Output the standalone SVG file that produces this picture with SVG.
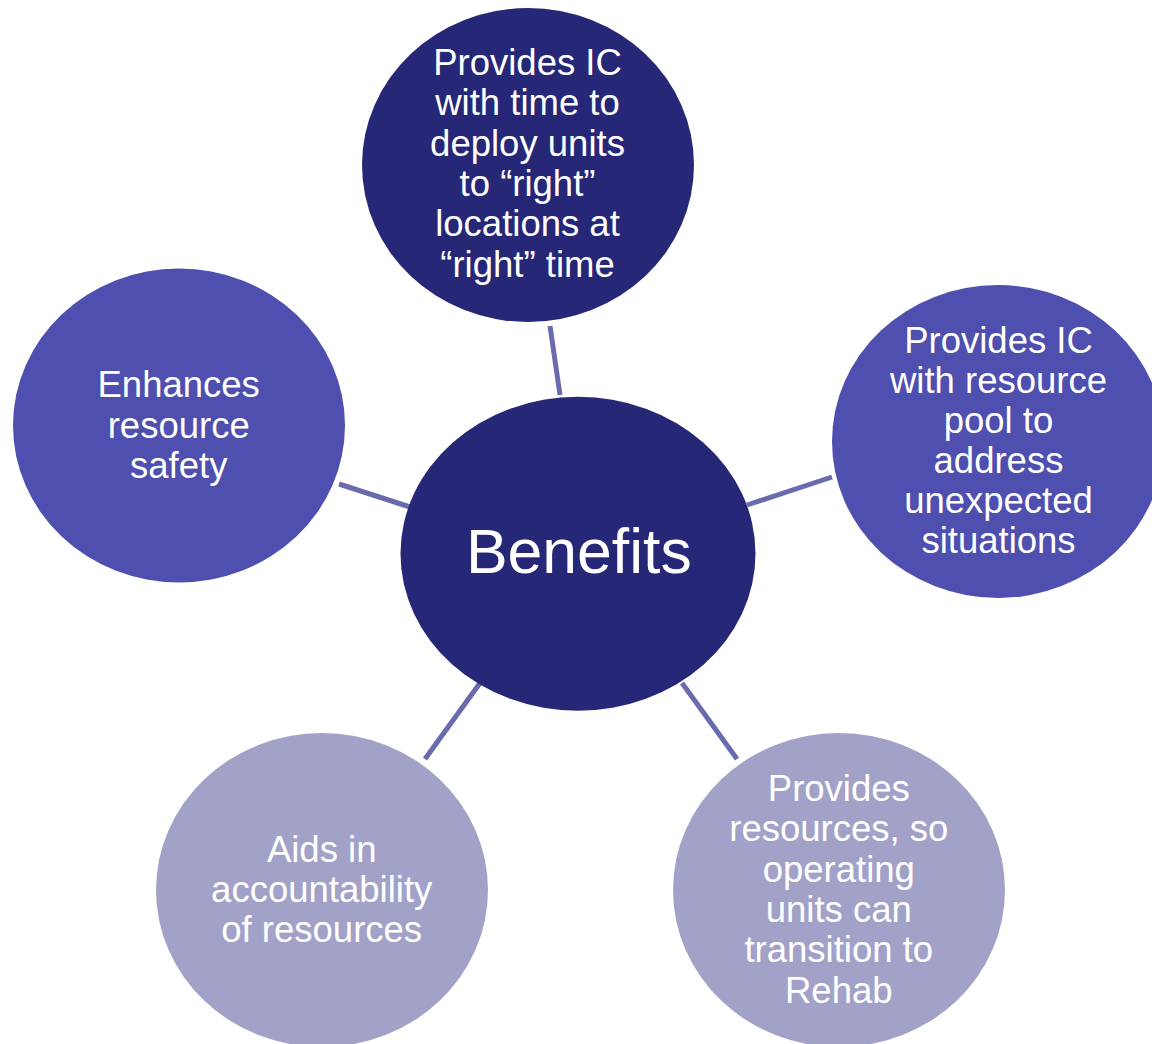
<svg xmlns="http://www.w3.org/2000/svg" width="1152" height="1044" viewBox="0 0 1152 1044">
  <style>
    .dark { fill: #272777; }
    .mid { fill: #4e4fae; }
    .light { fill: #a2a2c8; }
    .label { font-family: "Liberation Sans", Arial, sans-serif; font-size: 36.5px; fill: #ffffff; text-anchor: middle; }
    .title { font-family: "Liberation Sans", Arial, sans-serif; font-size: 62.5px; fill: #ffffff; text-anchor: middle; }
    .link { stroke: #6a6aae; stroke-width: 5; fill: none; }
  </style>
  <rect width="1152" height="1044" fill="#ffffff"/>

  <!-- spokes from the hub to each benefit -->
  <g id="connectors">
    <line class="link" x1="560" y1="395" x2="550" y2="326"/>
    <line class="link" x1="747" y1="505" x2="832" y2="477"/>
    <line class="link" x1="410" y1="507" x2="339" y2="484"/>
    <line class="link" x1="480" y1="683" x2="425" y2="759"/>
    <line class="link" x1="682" y1="683" x2="737" y2="759"/>
  </g>

  <g id="node-top">
    <ellipse class="dark" cx="528" cy="165" rx="166" ry="157"/>
    <text class="label" x="527.5" y="75">Provides IC</text>
    <text class="label" x="527.5" y="115.3">with time to</text>
    <text class="label" x="527.5" y="155.6">deploy units</text>
    <text class="label" x="527.5" y="195.9">to “right”</text>
    <text class="label" x="527.5" y="236.2">locations at</text>
    <text class="label" x="527.5" y="276.5">“right” time</text>
  </g>

  <g id="node-right">
    <ellipse class="mid" cx="998" cy="441.5" rx="166" ry="156.5"/>
    <text class="label" x="998.5" y="352.7">Provides IC</text>
    <text class="label" x="998.5" y="392.8">with resource</text>
    <text class="label" x="998.5" y="432.9">pool to</text>
    <text class="label" x="998.5" y="473">address</text>
    <text class="label" x="998.5" y="513.1">unexpected</text>
    <text class="label" x="998.5" y="553.2">situations</text>
  </g>

  <g id="node-left">
    <ellipse class="mid" cx="179" cy="425.5" rx="166" ry="157"/>
    <text class="label" x="178.7" y="396.7">Enhances</text>
    <text class="label" x="178.7" y="437.5">resource</text>
    <text class="label" x="178.7" y="478.3">safety</text>
  </g>

  <g id="node-bottom-left">
    <ellipse class="light" cx="322" cy="890" rx="166" ry="157"/>
    <text class="label" x="321.7" y="861.7">Aids in</text>
    <text class="label" x="321.7" y="901.7">accountability</text>
    <text class="label" x="321.7" y="941.7">of resources</text>
  </g>

  <g id="node-bottom-right">
    <ellipse class="light" cx="839" cy="890" rx="166" ry="157"/>
    <text class="label" x="838.8" y="800.7">Provides</text>
    <text class="label" x="838.8" y="841.1">resources, so</text>
    <text class="label" x="838.8" y="881.5">operating</text>
    <text class="label" x="838.8" y="921.9">units can</text>
    <text class="label" x="838.8" y="962.3">transition to</text>
    <text class="label" x="838.8" y="1002.7">Rehab</text>
  </g>

  <g id="node-hub">
    <ellipse class="dark" cx="578" cy="553.7" rx="177.5" ry="157"/>
    <text class="title" x="578.8" y="573.3">Benefits</text>
  </g>
</svg>
